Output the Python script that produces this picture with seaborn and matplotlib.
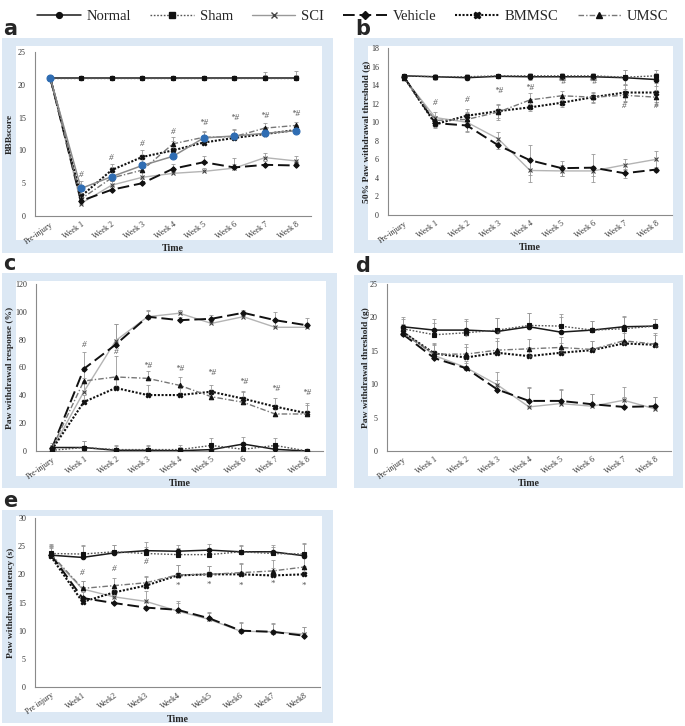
import numpy as np
import pandas as pd
import seaborn as sns
import matplotlib
matplotlib.use("Agg")
import matplotlib.pyplot as plt
from matplotlib.patches import Rectangle
from matplotlib.lines import Line2D

sns.set_style("white")
plt.rcParams["font.family"] = ["Liberation Serif", "DejaVu Serif"]

# ---------------- data ----------------
groups = ["Normal", "Sham", "SCI", "Vehicle", "BMMSC", "UMSC"]
weeks = ["Pre-injury", "Week 1", "Week 2", "Week 3", "Week 4", "Week 5", "Week 6", "Week 7", "Week 8"]
weeks_e = ["Pre injury", "Week1", "Week2", "Week3", "Week4", "Week5", "Week6", "Week7", "Week8"]

# panel a: BBB score
a_normal = [21, 21, 21, 21, 21, 21, 21, 21, 21]
a_sham = [21, 21, 21, 21, 21, 21, 21, 21, 21]
a_sci = [21, 1.9, 4.7, 5.9, 6.5, 6.8, 7.3, 8.9, 8.4]
a_vehicle = [21, 2.3, 4.0, 5.0, 7.2, 8.2, 7.4, 7.8, 7.7]
a_bmmsc = [21, 3.0, 7.0, 9.0, 10.0, 11.2, 11.9, 12.5, 13.1]
a_umsc = [21, 2.6, 5.8, 7.0, 11.0, 12.0, 12.1, 13.4, 13.8]
a_extra = [21, 4.2, 6.0, 7.7, 9.1, 11.9, 12.2, 12.6, 13.0]
a_err_normal = [0.4, 0.3, 0.4, 0.3, 0.4, 0.4, 0.4, 0.9, 1.1]
a_err_sham = [0.4, 0.3, 0.4, 0.3, 0.4, 0.4, 0.4, 0.5, 0.5]
a_err_sci = [0.3, 0.6, 0.7, 0.9, 0.7, 0.5, 0.6, 0.7, 0.8]
a_err_vehicle = [0.3, 0.5, 0.6, 0.6, 0.7, 0.9, 1.4, 0.6, 0.5]
a_err_bmmsc = [0.3, 0.8, 1.0, 1.1, 1.5, 0.9, 0.8, 0.9, 0.7]
a_err_umsc = [0.3, 0.9, 1.0, 1.2, 1.0, 1.0, 1.0, 0.8, 0.5]
a_err_extra = [0.3, 1.2, 1.5, 1.5, 1.6, 0.9, 1.1, 1.0, 0.6]
a_marks = ["", "#", "#", "#", "#", "*#", "*#", "*#", "*#"]
a_mark_y = [0, 5.6, 8.3, 10.3, 12.2, 13.5, 14.3, 14.7, 15.0]

# panel b: 50% paw withdrawal threshold (g)
b_normal = [15.0, 14.9, 14.8, 14.95, 14.9, 14.9, 14.9, 14.8, 14.6]
b_sham = [15.0, 14.9, 14.9, 15.0, 15.0, 15.0, 15.0, 14.85, 15.0]
b_sci = [14.8, 10.5, 10.0, 8.2, 4.8, 4.75, 4.75, 5.4, 6.0]
b_vehicle = [14.9, 9.9, 9.65, 7.5, 5.9, 5.05, 5.1, 4.5, 4.9]
b_bmmsc = [14.9, 9.8, 10.7, 11.2, 11.6, 12.1, 12.7, 13.2, 13.2]
b_umsc = [14.8, 10.2, 10.3, 11.1, 12.4, 12.85, 12.7, 12.9, 12.7]
b_err_normal = [0.2, 0.3, 0.3, 0.2, 0.3, 0.3, 0.3, 0.8, 0.7]
b_err_sham = [0.2, 0.2, 0.3, 0.2, 0.3, 0.3, 0.3, 0.8, 0.6]
b_err_sci = [0.2, 0.6, 1.0, 0.7, 1.2, 0.6, 0.5, 0.6, 0.9]
b_err_vehicle = [0.2, 0.4, 0.6, 0.4, 1.6, 0.8, 1.5, 0.5, 0.3]
b_err_bmmsc = [0.2, 0.4, 0.7, 0.7, 0.4, 0.5, 0.6, 0.9, 1.0]
b_err_umsc = [0.2, 0.5, 0.8, 0.9, 0.8, 0.5, 0.5, 0.7, 0.8]
b_marks = ["", "#", "#", "*#", "*#", "*#", "*#", "#", "#"]
b_mark_y = [0, 11.6, 12.0, 12.9, 13.3, 13.9, 13.9, 11.3, 11.3]

# panel c: paw withdrawal response (%)
c_normal = [2.5, 2.5, 0.5, 0.5, 0.2, 1.0, 5.0, 1.2, 0.0]
c_sham = [0.5, 2.5, 1.0, 1.0, 1.0, 4.0, 1.2, 4.0, 0.0]
c_sci = [1.0, 42.6, 79.3, 96.5, 99.0, 91.7, 96.5, 88.9, 88.9]
c_vehicle = [2.0, 59.0, 76.5, 96.5, 94.0, 95.0, 99.3, 94.0, 90.3]
c_bmmsc = [1.0, 35.2, 45.3, 40.2, 40.2, 42.6, 37.6, 31.9, 27.1]
c_umsc = [2.0, 50.3, 53.2, 52.2, 47.2, 39.0, 35.0, 26.6, 26.6]
c_err_normal = [3, 5, 3, 3, 3, 3, 5, 3, 0]
c_err_sham = [3, 5, 3, 3, 3, 5, 5, 5, 0]
c_err_sci = [2, 10, 12, 4, 2, 3, 4, 4, 3]
c_err_vehicle = [2, 12, 15, 5, 2, 3, 2, 6, 5]
c_err_bmmsc = [2, 5, 7, 7, 5, 5, 5, 6, 6]
c_err_umsc = [2, 10, 15, 5, 6, 5, 8, 6, 8]
c_marks = ["", "#", "#", "*#", "*#", "*#", "*#", "*#", "*#"]
c_mark_y = [0, 73, 68, 58, 56, 53, 47, 42, 39]

# panel d: paw withdrawal threshold (g)
d_normal = [18.6, 18.1, 18.1, 17.9, 18.6, 17.8, 18.1, 18.6, 18.7]
d_sham = [18.3, 17.4, 17.7, 18.1, 18.8, 18.7, 18.1, 18.3, 18.7]
d_sci = [18.0, 14.3, 12.5, 9.9, 6.6, 7.1, 6.7, 7.6, 6.3]
d_vehicle = [17.5, 13.9, 12.4, 9.2, 7.5, 7.5, 7.0, 6.6, 6.7]
d_bmmsc = [17.8, 14.6, 14.0, 14.7, 14.2, 14.7, 15.1, 16.1, 15.9]
d_umsc = [17.6, 14.5, 14.5, 15.1, 15.3, 15.5, 15.2, 16.5, 16.0]
d_err_normal = [1.5, 1.6, 1.6, 2.0, 2.0, 2.2, 1.3, 1.6, 1.1]
d_err_sham = [1.5, 1.8, 1.8, 1.8, 1.8, 1.8, 1.3, 1.8, 1.0]
d_err_sci = [1.0, 1.5, 1.0, 2.0, 3.0, 2.0, 1.8, 2.0, 1.8]
d_err_vehicle = [1.0, 1.0, 0.8, 1.5, 2.0, 1.8, 1.5, 1.5, 1.4]
d_err_bmmsc = [1.0, 1.5, 1.6, 1.8, 1.3, 1.5, 1.3, 1.5, 1.5]
d_err_umsc = [1.0, 1.5, 1.5, 1.8, 1.5, 1.6, 1.3, 1.5, 1.7]
d_marks = ["", "", "*", "*", "*", "*", "*", "*", "*"]
d_mark_y = [0, 0, 16.4, 16.8, 13.2, 13.9, 14.3, 15.1, 14.7]

# panel e: paw withdrawal latency (s)
e_normal = [23.4, 23.0, 23.8, 24.2, 24.1, 24.3, 24.0, 24.0, 23.3]
e_sham = [23.7, 23.6, 24.0, 23.7, 23.5, 23.5, 24.0, 23.7, 23.6]
e_sci = [23.3, 17.4, 16.0, 15.2, 13.5, 12.0, 9.9, 9.8, 9.4]
e_vehicle = [23.5, 15.8, 14.9, 14.1, 13.7, 12.2, 10.0, 9.8, 9.1]
e_bmmsc = [23.2, 15.1, 16.8, 18.0, 19.8, 20.0, 20.0, 19.8, 20.0]
e_umsc = [23.6, 17.5, 18.0, 18.5, 19.9, 20.0, 20.3, 20.6, 21.3]
e_err_normal = [2.0, 2.2, 1.4, 1.5, 1.1, 1.0, 1.1, 1.2, 2.3]
e_err_sham = [1.5, 1.5, 1.2, 1.2, 1.2, 1.2, 1.2, 1.2, 1.8]
e_err_sci = [1.5, 1.5, 1.5, 1.8, 1.5, 1.2, 1.5, 1.5, 1.3]
e_err_vehicle = [1.5, 1.0, 1.0, 1.0, 1.5, 1.2, 1.5, 1.4, 1.5]
e_err_bmmsc = [1.5, 1.0, 1.2, 1.5, 1.8, 1.5, 2.0, 1.4, 1.5]
e_err_umsc = [1.5, 1.3, 1.4, 1.2, 1.7, 1.4, 1.5, 1.9, 1.6]
e_marks = ["", "#", "#", "#", "", "", "", "", ""]
e_mark_y = [0, 19.6, 20.3, 21.4, 0, 0, 0, 0, 0]
e_marks_low = ["", "", "", "", "*", "*", "*", "*", "*"]
e_mark_low_y = [0, 0, 0, 0, 18.7, 18.9, 18.7, 19.0, 18.6]

# ---------------- styles ----------------
styles = {
    "Normal": dict(color="#1a1a1a", ls="-", lw=1.1, marker="o", ms=3.2, mfc="#111", mec="#111"),
    "Sham": dict(color="#555555", ls=(0, (1.2, 1.2)), lw=1.0, marker="s", ms=2.8, mfc="#111", mec="#111"),
    "SCI": dict(color="#b4b4b4", ls="-", lw=1.0, marker="x", ms=3.5, mfc="#555", mec="#444"),
    "Vehicle": dict(color="#111111", ls=(0, (6, 2.5)), lw=1.4, marker="D", ms=2.8, mfc="#111", mec="#111"),
    "BMMSC": dict(color="#111111", ls=(0, (1, 0.8)), lw=1.5, marker="X", ms=3.4, mfc="#111", mec="#111"),
    "UMSC": dict(color="#777777", ls=(0, (4, 1.5, 1, 1.5)), lw=1.0, marker="^", ms=3.2, mfc="#111", mec="#111"),
}
extra_style = dict(color="#8a8a8a", ls="-", lw=1.1, marker="o", ms=5, mfc="#2f6db3", mec="#2f6db3")

W, H = 685, 726
fig = plt.figure(figsize=(W / 100, H / 100), dpi=100)


def fr(l, t, r, b):
    return [l / W, 1 - b / H, (r - l) / W, (b - t) / H]


def rect(l, t, r, b, fc, z):
    fig.patches.append(Rectangle((l / W, 1 - b / H), (r - l) / W, (b - t) / H,
                                 transform=fig.transFigure, facecolor=fc,
                                 edgecolor="none", zorder=z))


def draw(box, white, axr, letter, xlabels, series, errs, ylim, ystep, ylabel,
         ylab_dx, marks, mark_y, low_marks=None, low_y=None, sym=False):
    rect(*box, "#dce8f4", -3)
    rect(*white, "white", -2)
    fig.text(box[0] / W + 0.002, 1 - (box[1] + 1) / H, letter, fontsize=15,
             fontweight="bold", family="DejaVu Sans", va="bottom", ha="left")
    ax = fig.add_axes(fr(*axr))
    ax.set_facecolor("none")
    order = list(series.keys())
    for g in order:
        e = np.array(errs[g], dtype=float)
        lower = e if sym else np.zeros_like(e)
        ax.errorbar(xlabels, series[g], yerr=[lower, e], fmt="none", ecolor="#999999",
                    elinewidth=0.6, capsize=1.6, capthick=0.6, zorder=2)
    for g in order:
        st = styles[g] if g in styles else extra_style
        df = pd.DataFrame({"x": xlabels, "y": series[g]})
        sns.lineplot(data=df, x="x", y="y", ax=ax, sort=False, legend=False,
                     color=st["color"], linestyle=st["ls"], linewidth=st["lw"],
                     marker=st["marker"], markersize=st["ms"],
                     markerfacecolor=st["mfc"], markeredgecolor=st["mec"],
                     markeredgewidth=0.8, zorder=3)
    for i, (t, y) in enumerate(zip(marks, mark_y)):
        if t:
            ax.text(i, y, t, fontsize=6.5, color="#555", ha="center", va="bottom",
                    style="italic")
    if low_marks:
        for i, (t, y) in enumerate(zip(low_marks, low_y)):
            if t:
                ax.text(i, y, t, fontsize=6.5, color="#555", ha="center", va="top")
    ax.set_xlim(-0.5, len(xlabels) - 0.5)
    ax.set_ylim(*ylim)
    ax.set_yticks(np.arange(ylim[0], ylim[1] + 0.01, ystep))
    ax.set_xticks(range(len(xlabels)))
    ax.set_xticklabels(xlabels, rotation=35, ha="right", rotation_mode="anchor",
                       fontsize=5.8, color="#333")
    ax.set_xticks(np.arange(-0.5, len(xlabels), 1.0), minor=True)
    ax.tick_params(axis="y", labelsize=5.8, labelcolor="#333", length=2.5,
                   width=0.6, color="#888", direction="out", pad=4)
    ax.tick_params(axis="x", which="both", length=2.5, width=0.6, color="#888",
                   direction="inout", pad=2)
    for s in ["top", "right"]:
        ax.spines[s].set_visible(False)
    for s in ["left", "bottom"]:
        ax.spines[s].set_color("#8a8a8a")
        ax.spines[s].set_linewidth(0.8)
    wpx = axr[2] - axr[0]
    hpx = axr[3] - axr[1]
    ax.set_ylabel(ylabel, fontsize=6.8, fontweight="bold")
    ax.yaxis.set_label_coords(-ylab_dx / wpx, 0.5)
    ax.set_xlabel("Time", fontsize=7.2, fontweight="bold")
    ax.xaxis.set_label_coords(0.5, -28 / hpx)
    return ax


draw((2, 38, 333, 253), (16, 46, 322, 240), (35, 52, 311, 216), "a", weeks,
     {"Normal": a_normal, "Sham": a_sham, "SCI": a_sci, "Vehicle": a_vehicle,
      "BMMSC": a_bmmsc, "UMSC": a_umsc, "extra": a_extra},
     {"Normal": a_err_normal, "Sham": a_err_sham, "SCI": a_err_sci,
      "Vehicle": a_err_vehicle, "BMMSC": a_err_bmmsc, "UMSC": a_err_umsc,
      "extra": a_err_extra},
     (0, 25), 5, "BBBscore", 21, a_marks, a_mark_y)

draw((354, 38, 683, 253), (368, 46, 673, 240), (388, 48, 672, 215), "b", weeks,
     {"Normal": b_normal, "Sham": b_sham, "SCI": b_sci, "Vehicle": b_vehicle,
      "BMMSC": b_bmmsc, "UMSC": b_umsc},
     {"Normal": b_err_normal, "Sham": b_err_sham, "SCI": b_err_sci,
      "Vehicle": b_err_vehicle, "BMMSC": b_err_bmmsc, "UMSC": b_err_umsc},
     (0, 18), 2, "50% Paw withdrawal threshold (g)", 17, b_marks, b_mark_y, sym=True)

draw((2, 273, 337, 488), (16, 281, 326, 476), (36, 284, 323, 451), "c", weeks,
     {"Normal": c_normal, "Sham": c_sham, "SCI": c_sci, "Vehicle": c_vehicle,
      "BMMSC": c_bmmsc, "UMSC": c_umsc},
     {"Normal": c_err_normal, "Sham": c_err_sham, "SCI": c_err_sci,
      "Vehicle": c_err_vehicle, "BMMSC": c_err_bmmsc, "UMSC": c_err_umsc},
     (0, 120), 20, "Paw withdrawal response (%)", 22, c_marks, c_mark_y)

draw((354, 275, 683, 488), (368, 283, 673, 476), (387, 284, 671, 451), "d", weeks,
     {"Normal": d_normal, "Sham": d_sham, "SCI": d_sci, "Vehicle": d_vehicle,
      "BMMSC": d_bmmsc, "UMSC": d_umsc},
     {"Normal": d_err_normal, "Sham": d_err_sham, "SCI": d_err_sci,
      "Vehicle": d_err_vehicle, "BMMSC": d_err_bmmsc, "UMSC": d_err_umsc},
     (0, 25), 5, "Paw withdrawal threshold (g)", 17, d_marks, d_mark_y)

draw((2, 510, 333, 723), (16, 516, 322, 712), (35, 518, 320, 687), "e", weeks_e,
     {"Normal": e_normal, "Sham": e_sham, "SCI": e_sci, "Vehicle": e_vehicle,
      "BMMSC": e_bmmsc, "UMSC": e_umsc},
     {"Normal": e_err_normal, "Sham": e_err_sham, "SCI": e_err_sci,
      "Vehicle": e_err_vehicle, "BMMSC": e_err_bmmsc, "UMSC": e_err_umsc},
     (0, 30), 5, "Paw withdrawal latency (s)", 20, e_marks, e_mark_y,
     low_marks=e_marks_low, low_y=e_mark_low_y)

handles = []
for g in groups:
    st = styles[g]
    handles.append(Line2D([], [], color=st["color"] if g != "SCI" else "#999",
                          linestyle=st["ls"], linewidth=st["lw"],
                          marker=st["marker"], markersize=st["ms"] + 1,
                          markerfacecolor=st["mfc"], markeredgecolor=st["mec"]))
fig.legend(handles, groups, loc="upper center", bbox_to_anchor=(0.515, 1.004),
           ncol=6, frameon=False, fontsize=10.5, handlelength=3.0,
           columnspacing=1.3, handletextpad=0.4)

fig.savefig("out.png", dpi=100)
